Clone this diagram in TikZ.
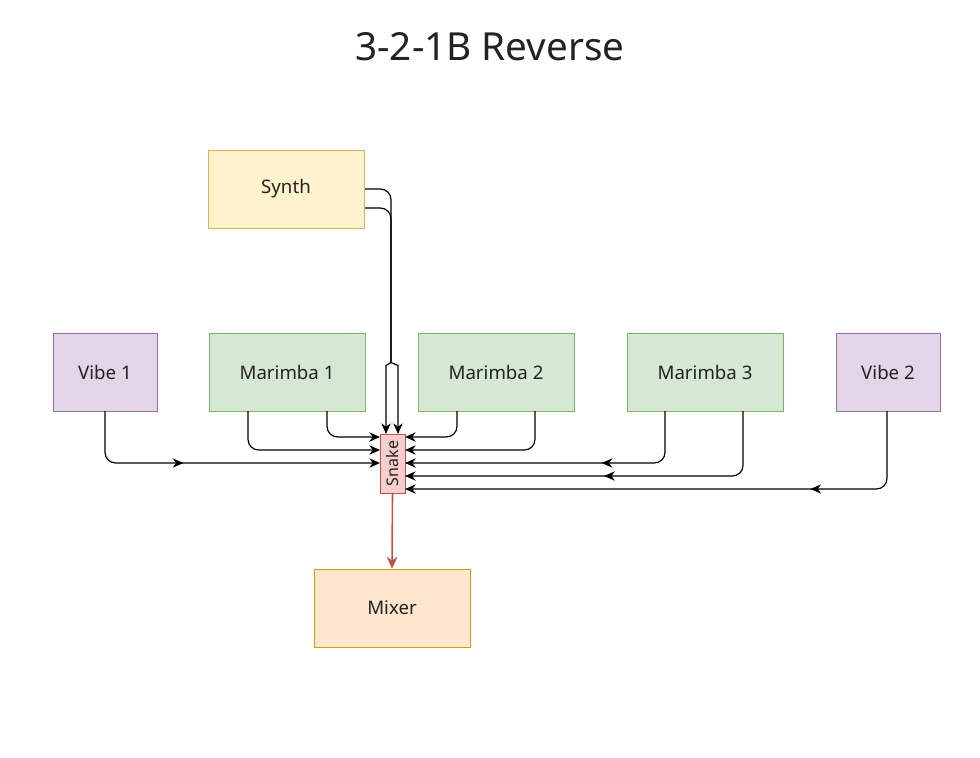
\documentclass[tikz,border=0pt]{standalone}
\usepackage{fontspec}
\setmainfont{Noto Sans}
\usetikzlibrary{arrows.meta,decorations.markings}
\definecolor{gF}{HTML}{D5E8D4}\definecolor{gD}{HTML}{82B366}
\definecolor{pF}{HTML}{E1D5E7}\definecolor{pD}{HTML}{9673A6}
\definecolor{yF}{HTML}{FFF2CC}\definecolor{yD}{HTML}{D6B656}
\definecolor{oF}{HTML}{FFE6CC}\definecolor{oD}{HTML}{D79B00}
\definecolor{rF}{HTML}{F8CECC}\definecolor{rD}{HTML}{B85450}
\definecolor{tx}{HTML}{222222}
\begin{document}
\begin{tikzpicture}[x=0.75pt,y=-0.75pt,
 box/.style={draw,minimum width=156*0.75pt,minimum height=78*0.75pt,font=\fontsize{14}{16}\selectfont,text=tx,inner sep=0},
 green/.style={box,draw=gD,fill=gF},
 purple/.style={box,draw=pD,fill=pF,minimum width=104*0.75pt},
 yel/.style={box,draw=yD,fill=yF},
 org/.style={box,draw=oD,fill=oF},
 con/.style={draw,line width=0.9pt,-{Stealth[length=8pt,width=7pt]},rounded corners=8pt},
 mid/.style={postaction={decorate},decoration={markings,mark=at position #1 with {\arrow{Stealth[length=8pt,width=7pt]}}}}]
\useasboundingbox (0,0) rectangle (980,757);
\node[font=\fontsize{29}{32}\selectfont,text=tx] (t) at (490,47) {3-2-1B Reverse};
\node[yel] (syn) at (286,189) {Synth};
\node[purple] (v1) at (105,372) {Vibe 1};
\node[green] (m1) at (287,372) {Marimba 1};
\node[green] (m2) at (496,372) {Marimba 2};
\node[green] (m3) at (705,372) {Marimba 3};
\node[purple] (v2) at (888,372) {Vibe 2};
\node[org] (mix) at (392,608) {Mixer};
\node[draw=rD,fill=rF,minimum width=59*0.75pt,minimum height=25*0.75pt,inner sep=0,rotate=90,font=\fontsize{12}{14}\selectfont,text=tx] (sn) at (392.5,463.5) {Snake};
\draw[con] (365,189) -- (391,189) -- (391,352) .. controls (391,362) and (386,366) .. (386,376) -- (386,434);
\draw[con] (365,208) -- (391,208) -- (391,352) .. controls (391,362) and (398,366) .. (398,376) -- (398,434);
\draw[con] (327,411) -- (327,437) -- (380,437);
\draw[con] (248,411) -- (248,450) -- (380,450);
\draw[con,mid=0.39] (105,411) -- (105,463) -- (380,463);
\draw[con] (457,411) -- (457,437) -- (405,437);
\draw[con] (535,411) -- (535,450) -- (405,450);
\draw[con,mid=0.36] (665,411) -- (665,463) -- (405,463);
\draw[con,mid=0.5] (743,411) -- (743,476) -- (405,476);
\draw[con,mid=0.27] (887,411) -- (887,489) -- (405,489);
\draw[line width=1.2pt,draw=rD,-{Stealth[length=9pt,width=8pt]}] (sn.west) -- (mix.north);
\end{tikzpicture}
\end{document}
